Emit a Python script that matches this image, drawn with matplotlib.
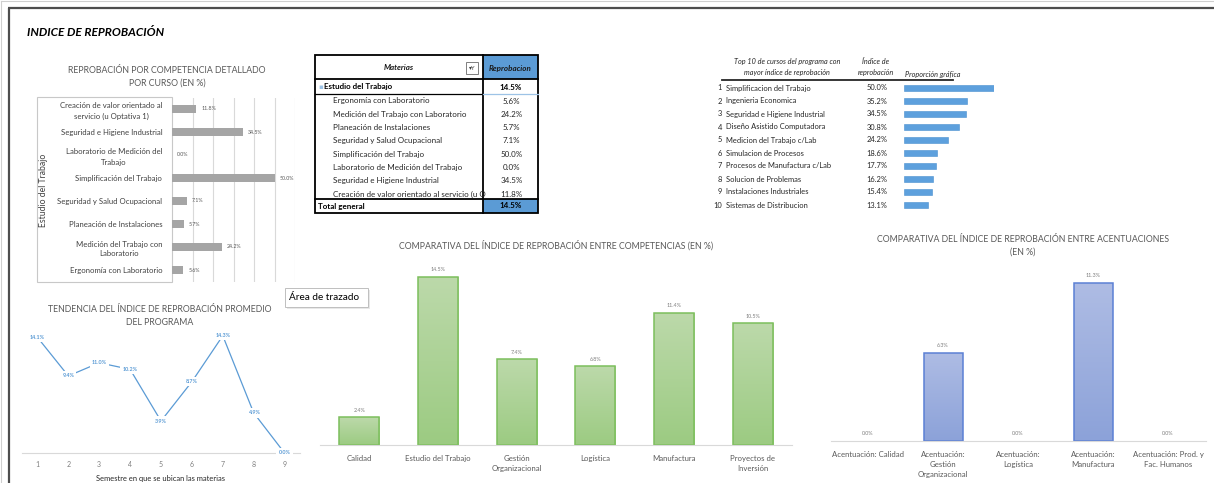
import matplotlib
matplotlib.use("Agg")
import matplotlib.pyplot as plt
from matplotlib.patches import Rectangle, FancyBboxPatch
from matplotlib.colors import LinearSegmentedColormap
from matplotlib.transforms import blended_transform_factory
import numpy as np

plt.rcParams['font.family'] = ['Lato', 'DejaVu Sans']

# ---------------- data ----------------
main_title = "INDICE DE REPROBACIÓN"

detalle_title = "REPROBACIÓN POR COMPETENCIA DETALLADO\nPOR CURSO (EN %)"
detalle_grupo = "Estudio del Trabajo"
detalle_cursos = ["Creación de valor orientado al\nservicio (u Optativa 1)",
                  "Seguridad e Higiene Industrial",
                  "Laboratorio de Medición del\nTrabajo",
                  "Simplificación del Trabajo",
                  "Seguridad y Salud Ocupacional",
                  "Planeación de Instalaciones",
                  "Medición del Trabajo con\nLaboratorio",
                  "Ergonomía con Laboratorio"]
detalle_vals = [11.8, 34.5, 0.0, 50.0, 7.1, 5.7, 24.2, 5.6]

pivot_headers = ["Materias", "Reprobacion"]
pivot_group = "Estudio del Trabajo"
pivot_group_val = 14.5
pivot_items = ["Ergonomía con Laboratorio",
               "Medición del Trabajo con Laboratorio",
               "Planeación de Instalaciones",
               "Seguridad y Salud Ocupacional",
               "Simplificación del Trabajo",
               "Laboratorio de Medición del Trabajo",
               "Seguridad e Higiene Industrial",
               "Creación de valor orientado al servicio (u Optativa 1)"]
pivot_vals = [5.6, 24.2, 5.7, 7.1, 50.0, 0.0, 34.5, 11.8]
pivot_total_label = "Total general"
pivot_total = 14.5

top10_header = ["Top 10 de cursos del programa con\nmayor índice de reprobación",
                "Índice de\nreprobación", "Proporción gráfica"]
top10_names = ["Simplificacion del Trabajo", "Ingenieria Economica",
               "Seguridad e Higiene Industrial", "Diseño Asistido Computadora",
               "Medicion del Trabajo c/Lab", "Simulacion de Procesos",
               "Procesos de Manufactura c/Lab", "Solucion de Problemas",
               "Instalaciones Industriales", "Sistemas de Distribucion"]
top10_vals = [50.0, 35.2, 34.5, 30.8, 24.2, 18.6, 17.7, 16.2, 15.4, 13.1]

tend_title = "TENDENCIA DEL ÍNDICE DE REPROBACIÓN PROMEDIO\nDEL PROGRAMA"
tend_xlabel = "Semestre en que se ubican las materias"
semestres = [1, 2, 3, 4, 5, 6, 7, 8, 9]
tend_vals = [14.1, 9.4, 11.0, 10.2, 3.9, 8.7, 14.3, 4.9, 0.0]

comp_title = "COMPARATIVA DEL ÍNDICE DE REPROBACIÓN ENTRE COMPETENCIAS (EN %)"
competencias = ["Calidad", "Estudio del Trabajo", "Gestión\nOrganizacional",
                "Logística", "Manufactura", "Proyectos de\nInversión"]
comp_vals = [2.4, 14.5, 7.4, 6.8, 11.4, 10.5]

acen_title = "COMPARATIVA DEL ÍNDICE DE REPROBACIÓN ENTRE ACENTUACIONES\n(EN %)"
acentuaciones = ["Acentuación: Calidad", "Acentuación:\nGestión\nOrganizacional",
                 "Acentuación:\nLogística", "Acentuación:\nManufactura",
                 "Acentuación: Prod. y\nFac. Humanos"]
acen_vals = [0.0, 6.3, 0.0, 11.3, 0.0]

tooltip_text = "Área de trazado"

# ---------------- figure ----------------
W, H = 1214, 483
fig = plt.figure(figsize=(W / 100, H / 100), dpi=100)
fig.patch.set_facecolor('white')


def px_axes(x0, y0, x1, y1, zorder=1):
    ax = fig.add_axes([x0 / W, 1 - y1 / H, (x1 - x0) / W, (y1 - y0) / H], zorder=zorder)
    ax.set_facecolor('none')
    return ax


def strip(ax):
    for s in ax.spines.values():
        s.set_visible(False)


def gradient_bars(ax, bars, top, bottom):
    cmap = LinearSegmentedColormap.from_list('g', [bottom, top])
    xl, yl = ax.get_xlim(), ax.get_ylim()
    for b in bars:
        h = b.get_height()
        if h <= 0:
            b.set_edgecolor('none')
            b.set_facecolor('none')
            continue
        x0, y0, w = b.get_x(), b.get_y(), b.get_width()
        im = ax.imshow(np.linspace(0, 1, 64).reshape(-1, 1), extent=[x0, x0 + w, y0, y0 + h],
                       origin='lower', cmap=cmap, aspect='auto', zorder=1.5)
        im.set_clip_path(b)
        b.set_facecolor('none')
        b.set_zorder(2)
    ax.set_xlim(xl)
    ax.set_ylim(yl)


TITLE_C = '#595959'
LBL_C = '#404040'

# background / pixel overlay
bg = px_axes(0, 0, W, H, zorder=0)
bg.set_xlim(0, W)
bg.set_ylim(H, 0)
bg.axis('off')

# frame
bg.plot([8, W], [8, 8], color='#4d4d4d', lw=1.6, solid_capstyle='butt')
bg.plot([9, 9], [8, H], color='#4d4d4d', lw=1.6, solid_capstyle='butt')
bg.plot([1, W], [1, 1], color='#cfcfcf', lw=0.8)
bg.plot([1, 1], [1, H], color='#cfcfcf', lw=0.8)

bg.text(27, 32, main_title, fontsize=8.6, fontweight='bold', fontstyle='italic',
        color='black', ha='left', va='center')

# ---------------- horizontal bar chart (detalle) ----------------
bg.text(167, 77, detalle_title, fontsize=6.3, color=TITLE_C, ha='center', va='center',
        linespacing=1.5)
ax1 = px_axes(172, 97.5, 295, 281.5)
y1 = np.arange(len(detalle_cursos))
ax1.barh(y1, detalle_vals, height=0.33, color='#A5A5A5', zorder=2)
ax1.set_xlim(0, 60)
ax1.set_ylim(len(detalle_cursos) - 0.5, -0.5)
ax1.set_xticks(np.arange(10, 61, 10))
ax1.grid(axis='x', color='#D9D9D9', lw=0.8, zorder=0)
ax1.tick_params(axis='x', length=0, labelbottom=False)
ax1.set_yticks(y1)
ax1.set_yticklabels(detalle_cursos, fontsize=5.6, color=LBL_C, linespacing=1.5)
for t in ax1.get_yticklabels():
    t.set_horizontalalignment('right')
    t.set_multialignment('center')
ax1.tick_params(axis='y', length=0, pad=7)
strip(ax1)
for i, v in enumerate(detalle_vals):
    ax1.text(v + 2.5, i, f"{v:.1f}%", va='center', ha='left', fontsize=3.8, color='#595959')
bg.add_patch(Rectangle((37, 97), 135, 185, fill=False, ec='#C8C8C8', lw=0.8))
bg.text(43, 190, detalle_grupo, rotation=90, fontsize=6.2, color=LBL_C, ha='center', va='center')

# ---------------- pivot table ----------------
TL, TM, TR = 315, 483, 538
TT, THB, TB = 55, 79, 213
BLUE = '#5B9BD5'
bg.add_patch(Rectangle((TM, TT), TR - TM, THB - TT, fc=BLUE, ec='none'))
bg.add_patch(Rectangle((TM, 199), TR - TM, TB - 199, fc=BLUE, ec='none'))
bg.add_patch(Rectangle((TL, TT), TR - TL, TB - TT, fill=False, ec='black', lw=1.3))
bg.plot([TM, TM], [TT, TB], color='black', lw=1.3)
bg.plot([TL, TR], [THB, THB], color='black', lw=1.3)
bg.plot([TL, TR], [199, 199], color='black', lw=1.3)
bg.plot([TL, TM], [94, 94], color='black', lw=0.9)
bg.plot([TM, TR], [94, 94], color='#9DC3E6', lw=0.9)
bg.text((TL + TM) / 2, 68, pivot_headers[0], fontsize=5.8, fontweight='bold', fontstyle='italic',
        ha='center', va='center', color='#1a1a1a')
bg.text((TM + TR) / 2, 68, pivot_headers[1], fontsize=5.8, fontweight='bold', fontstyle='italic',
        ha='center', va='center', color='#1a1a1a')
# filter button
bg.add_patch(Rectangle((466, 62), 12, 12, fc='white', ec='#7f7f7f', lw=0.7))
bg.text(472, 68.5, "▾Y", fontsize=4.2, ha='center', va='center', color='#404040',
        family=['DejaVu Sans'])
bg.text(318, 87, "▪", fontsize=5, color='#9DC3E6', ha='left', va='center', family=['DejaVu Sans'])
bg.text(324, 87, pivot_group, fontsize=5.8, fontweight='bold', ha='left', va='center', color='black')
bg.text((TM + TR) / 2, 87, f"{pivot_group_val:.1f}%", fontsize=5.8, fontweight='bold',
        ha='center', va='center', color='black')
MAXCH = 44  # the cell cuts long names
for i, (name, v) in enumerate(zip(pivot_items, pivot_vals)):
    yy = 101 + i * 13.3
    bg.text(333, yy, name[:MAXCH], fontsize=5.8, ha='left', va='center', color='#262626')
    bg.text((TM + TR) / 2 + 1, yy, f"{v:.1f}%", fontsize=5.8, ha='center', va='center', color='#262626')
bg.text(318, 206, pivot_total_label, fontsize=5.8, fontweight='bold', ha='left', va='center', color='black')
bg.text((TM + TR) / 2, 206, f"{pivot_total:.1f}%", fontsize=5.8, fontweight='bold',
        ha='center', va='center', color='black')

# ---------------- top 10 ----------------
bg.text(787, 67, top10_header[0], fontsize=5.2, fontstyle='italic', ha='center', va='center',
        color='#262626', linespacing=1.6)
bg.text(876, 67, top10_header[1], fontsize=5.2, fontstyle='italic', ha='center', va='center',
        color='#262626', linespacing=1.6)
bg.text(905, 74, top10_header[2], fontsize=5.2, fontstyle='italic', ha='left', va='center',
        color='#262626')
bg.plot([722, 953], [80, 80], color='#262626', lw=1.3)

ax4 = px_axes(904, 81.5, 994, 211.5)
y4 = np.arange(len(top10_names))
ax4.barh(y4, top10_vals, height=0.48, color='#5DA0DD', edgecolor='#4a8fd0', lw=0.4)
ax4.set_xlim(0, 50)
ax4.set_ylim(len(top10_names) - 0.5, -0.5)
ax4.axis('off')
tr4 = blended_transform_factory(bg.transData, ax4.transData)
for i, (n, v) in enumerate(zip(top10_names, top10_vals)):
    bg.text(722, i, str(i + 1), transform=tr4, fontsize=5.4, ha='right', va='center', color='#262626')
    bg.text(726, i, n, transform=tr4, fontsize=5.4, ha='left', va='center', color='#262626')
    bg.text(877, i, f"{v:.1f}%", transform=tr4, fontsize=5.4, ha='center', va='center', color='#262626')

# ---------------- trend line chart ----------------
bg.text(160, 316, tend_title, fontsize=6.3, color=TITLE_C, ha='center', va='center', linespacing=1.5)
ax2 = px_axes(22, 453 - 16 * 8.2, 300, 453)
ax2.plot(semestres, tend_vals, color='#5B9BD5', lw=0.9)
ax2.set_xlim(0.5, 9.5)
ax2.set_ylim(0, 16)
for x, v in zip(semestres, tend_vals):
    ax2.text(x, v, f"{v:.1f}%", ha='center', va='center', fontsize=3.9, color='#5B9BD5',
             fontweight='bold', bbox=dict(fc='white', ec='none', pad=1.6), clip_on=False, zorder=3)
strip(ax2)
ax2.spines['bottom'].set_visible(True)
ax2.spines['bottom'].set_color('#D9D9D9')
ax2.set_yticks([])
ax2.set_xticks(semestres)
ax2.tick_params(axis='x', length=0, pad=6, labelsize=5, labelcolor='#7f7f7f')
bg.text(160, 479, tend_xlabel, fontsize=5.4, ha='center', va='center', color='#262626')

# ---------------- competencias ----------------
bg.text(556, 245, comp_title, fontsize=6.3, color=TITLE_C, ha='center', va='center')
ax3 = px_axes(320, 445 - 16 * 11.59, 792, 445)
x3 = np.arange(len(competencias))
bars3 = ax3.bar(x3, comp_vals, width=0.51, color='#A9D18E', edgecolor='#7CBF5C', lw=1.1)
ax3.set_xlim(-0.5, len(competencias) - 0.5)
ax3.set_ylim(0, 16)
gradient_bars(ax3, bars3, '#BCD9AA', '#9CCB82')
for x, v in zip(x3, comp_vals):
    ax3.text(x, v + 0.6, f"{v:.1f}%", ha='center', va='center', fontsize=3.9, color='#7f7f7f')
strip(ax3)
ax3.spines['bottom'].set_visible(True)
ax3.spines['bottom'].set_color('#D9D9D9')
ax3.set_yticks([])
ax3.set_xticks(x3)
ax3.set_xticklabels(competencias, fontsize=5.6, color='#595959', linespacing=1.5)
ax3.tick_params(axis='x', length=0, pad=7)

# ---------------- acentuaciones ----------------
bg.text(1023, 246, acen_title, fontsize=6.3, color=TITLE_C, ha='center', va='center', linespacing=1.5)
ax5 = px_axes(830.5, 441 - 13 * 13.97, 1205.5, 441)
x5 = np.arange(len(acentuaciones))
bars5 = ax5.bar(x5, acen_vals, width=0.52, color='#9DAEDF', edgecolor='#5B80D4', lw=1.1)
ax5.set_xlim(-0.5, len(acentuaciones) - 0.5)
ax5.set_ylim(0, 13)
gradient_bars(ax5, bars5, '#AEBCE4', '#8CA2D9')
for x, v in zip(x5, acen_vals):
    ax5.text(x, v + 0.55, f"{v:.1f}%", ha='center', va='center', fontsize=3.9, color='#7f7f7f')
strip(ax5)
ax5.spines['bottom'].set_visible(True)
ax5.spines['bottom'].set_color('#D9D9D9')
ax5.set_yticks([])
ax5.set_xticks(x5)
ax5.set_xticklabels(acentuaciones, fontsize=5.6, color='#595959', linespacing=1.5)
ax5.tick_params(axis='x', length=0, pad=7)

# ---------------- tooltip ----------------
fg = px_axes(0, 0, W, H, zorder=10)
fg.set_xlim(0, W)
fg.set_ylim(H, 0)
fg.axis('off')
fg.add_patch(FancyBboxPatch((287, 290), 83, 19, boxstyle='square,pad=0', fc='#d9d9d9', ec='none', alpha=0.6))
fg.add_patch(FancyBboxPatch((285, 288), 83, 19, boxstyle='square,pad=0', fc='white', ec='#bfbfbf', lw=0.7))
fg.text(289, 297.5, tooltip_text, fontsize=7.2, ha='left', va='center', color='black')

fig.savefig('out.png', dpi=100)
